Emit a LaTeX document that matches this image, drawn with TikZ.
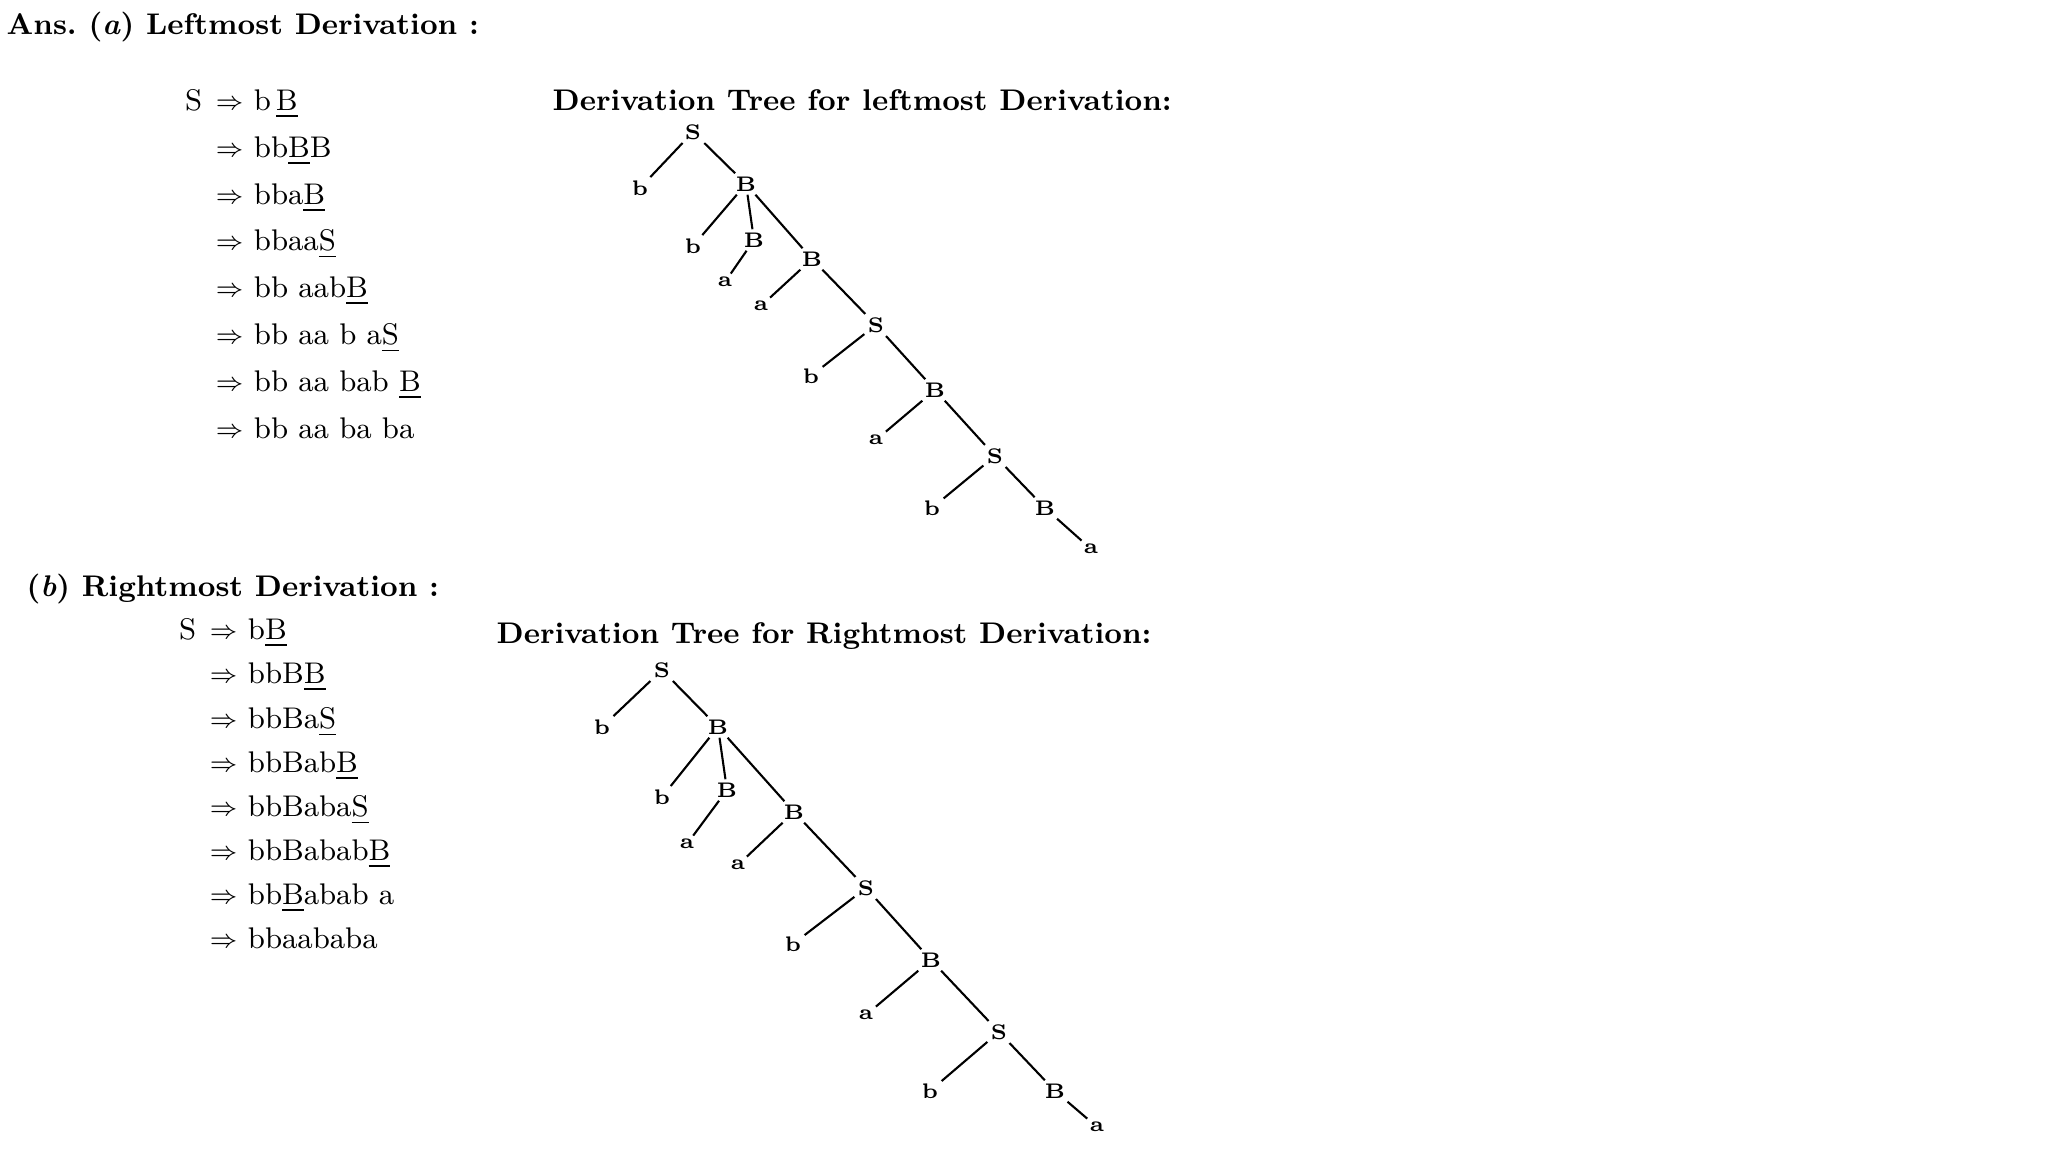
\documentclass[tikz,border=0pt]{standalone}
\newcommand{\drvarrow}{\raisebox{0.15ex}{\fontsize{7}{8}\selectfont$\Rightarrow$}}
\tikzset{
  hdr/.style={anchor=base west, inner sep=0pt, font=\fontsize{8.5}{10}\selectfont\bfseries\frenchspacing},
  drv/.style={anchor=base west, inner sep=0pt, font=\fontsize{8.5}{10}\selectfont},
  sym/.style={inner sep=0.8pt, font=\fontsize{6}{7}\selectfont\bfseries},
  branch/.style={line width=0.6pt}
}
\begin{document}
\begin{tikzpicture}
\useasboundingbox (0,0) rectangle (20.48,11.52);
% (a) leftmost
\node[hdr] (ha) at (0.06,11.17) {Ans. (\textit{a}) Leftmost Derivation :};
\node[drv, anchor=base east] (la0) at (2.03,10.41) {S};
\node[drv] (la1) at (2.15,10.41) {\drvarrow\ b\,\underline{B}};
\node[drv] (la2) at (2.15,9.94) {\drvarrow\ bb\underline{B}B};
\node[drv] (la3) at (2.15,9.47) {\drvarrow\ bba\underline{B}};
\node[drv] (la4) at (2.15,9.01) {\drvarrow\ bbaa\underline{S}};
\node[drv] (la5) at (2.15,8.54) {\drvarrow\ bb aab\underline{B}};
\node[drv] (la6) at (2.15,8.07) {\drvarrow\ bb aa b a\underline{S}};
\node[drv] (la7) at (2.15,7.60) {\drvarrow\ bb aa bab \underline{B}};
\node[drv] (la8) at (2.15,7.13) {\drvarrow\ bb aa ba ba};
\node[hdr] (ta) at (5.52,10.41) {Derivation Tree for leftmost Derivation:};
% tree (a)
\node[sym] (lS0) at (6.93,10.20) {S};
\node[sym] (lb0) at (6.40,9.64) {b};
\node[sym] (lB1) at (7.46,9.68) {B};
\node[sym] (lb1) at (6.93,9.06) {b};
\node[sym] (lB2) at (7.54,9.12) {B};
\node[sym] (la1) at (7.25,8.70) {a};
\node[sym] (lB3) at (8.12,8.93) {B};
\node[sym] (la2) at (7.61,8.46) {a};
\node[sym] (lS1) at (8.76,8.27) {S};
\node[sym] (lb2) at (8.11,7.76) {b};
\node[sym] (lB4) at (9.35,7.62) {B};
\node[sym] (la3) at (8.76,7.12) {a};
\node[sym] (lS2) at (9.95,6.96) {S};
\node[sym] (lb3) at (9.32,6.44) {b};
\node[sym] (lB5) at (10.45,6.44) {B};
\node[sym] (la4) at (10.91,6.03) {a};
\draw[branch] (lb0) -- (lS0) -- (lB1);
\draw[branch] (lB1) -- (lb1);
\draw[branch] (lB1) -- (lB2) -- (la1);
\draw[branch] (lB1) -- (lB3) -- (la2);
\draw[branch] (lB3) -- (lS1) -- (lb2);
\draw[branch] (lS1) -- (lB4) -- (la3);
\draw[branch] (lB4) -- (lS2) -- (lb3);
\draw[branch] (lS2) -- (lB5) -- (la4);
% (b) rightmost
\node[hdr] (hb) at (0.26,5.55) {(\textit{b}) Rightmost Derivation :};
\node[drv, anchor=base east] (rd0) at (1.97,5.12) {S};
\node[drv] (rd1) at (2.09,5.12) {\drvarrow\ b\underline{B}};
\node[drv] (rd2) at (2.09,4.68) {\drvarrow\ bbB\underline{B}};
\node[drv] (rd3) at (2.09,4.23) {\drvarrow\ bbBa\underline{S}};
\node[drv] (rd4) at (2.09,3.79) {\drvarrow\ bbBab\underline{B}};
\node[drv] (rd5) at (2.09,3.35) {\drvarrow\ bbBaba\underline{S}};
\node[drv] (rd6) at (2.09,2.91) {\drvarrow\ bbBabab\underline{B}};
\node[drv] (rd7) at (2.09,2.47) {\drvarrow\ bb\underline{B}abab a};
\node[drv] (rd8) at (2.09,2.03) {\drvarrow\ bbaababa};
\node[hdr] (tb) at (4.96,5.08) {Derivation Tree for Rightmost Derivation:};
% tree (b)
\node[sym] (rS0) at (6.62,4.82) {S};
\node[sym] (rb0) at (6.02,4.25) {b};
\node[sym] (rB1) at (7.18,4.25) {B};
\node[sym] (rb1) at (6.62,3.55) {b};
\node[sym] (rB2) at (7.27,3.62) {B};
\node[sym] (ra1) at (6.87,3.08) {a};
\node[sym] (rB3) at (7.94,3.40) {B};
\node[sym] (ra2) at (7.38,2.87) {a};
\node[sym] (rS1) at (8.66,2.64) {S};
\node[sym] (rb2) at (7.93,2.08) {b};
\node[sym] (rB4) at (9.31,1.92) {B};
\node[sym] (ra3) at (8.66,1.37) {a};
\node[sym] (rS2) at (9.99,1.20) {S};
\node[sym] (rb3) at (9.30,0.61) {b};
\node[sym] (rB5) at (10.55,0.61) {B};
\node[sym] (ra4) at (10.97,0.25) {a};
\draw[branch] (rb0) -- (rS0) -- (rB1);
\draw[branch] (rB1) -- (rb1);
\draw[branch] (rB1) -- (rB2) -- (ra1);
\draw[branch] (rB1) -- (rB3) -- (ra2);
\draw[branch] (rB3) -- (rS1) -- (rb2);
\draw[branch] (rS1) -- (rB4) -- (ra3);
\draw[branch] (rB4) -- (rS2) -- (rb3);
\draw[branch] (rS2) -- (rB5) -- (ra4);
\end{tikzpicture}
\end{document}
